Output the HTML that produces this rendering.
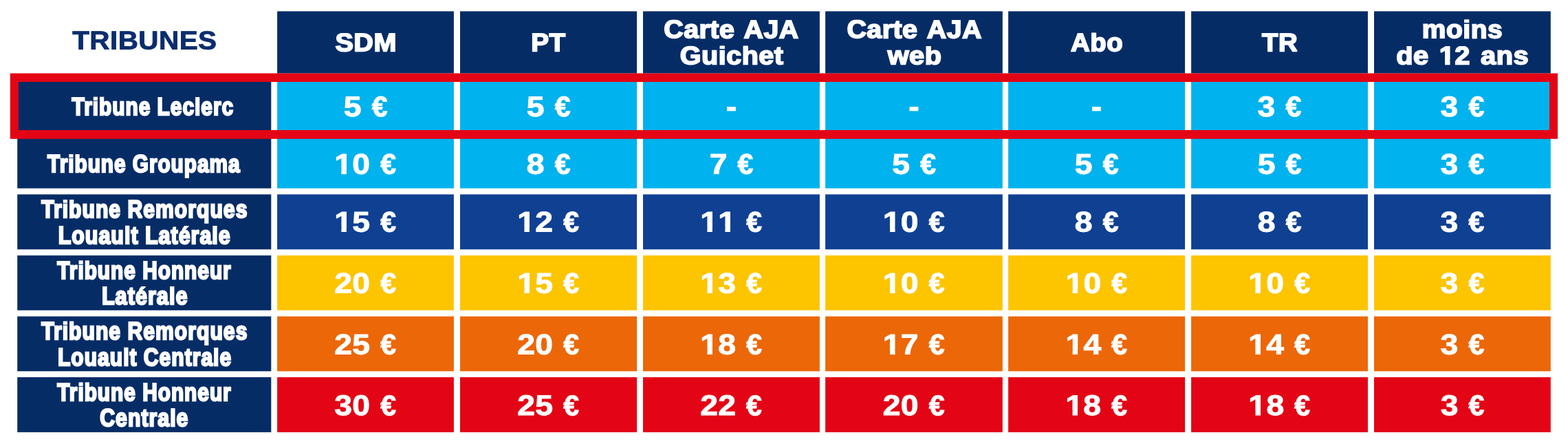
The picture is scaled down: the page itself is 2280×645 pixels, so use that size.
<!DOCTYPE html>
<html lang="fr"><head><meta charset="utf-8"><title>Tarifs tribunes</title>
<style>
html,body{margin:0;padding:0;width:2280px;height:645px;background:#fff;overflow:hidden}
svg{display:block;position:absolute;left:0;top:0;width:2280px;height:645px}
text{font-family:"Liberation Sans",sans-serif;font-weight:bold;text-rendering:geometricPrecision;stroke-linejoin:miter;stroke-miterlimit:2;white-space:pre}
.t{font-size:37.7px;fill:#0a2d6e;stroke:#0a2d6e;stroke-width:0.8px;letter-spacing:0.4px;word-spacing:0px}
.h{font-size:37px;fill:#fff;stroke:#fff;stroke-width:1.8px;letter-spacing:0.5px;word-spacing:3.2px}
.l{font-size:35.9px;fill:#fff;stroke:#fff;stroke-width:2.4px;letter-spacing:1.2px;word-spacing:0px}
.d{font-size:41.6px;fill:#fff;stroke:#fff;stroke-width:1px;letter-spacing:0.3px;word-spacing:0px}
.d{font-kerning:none}
</style></head><body>
<svg width="2280" height="645" viewBox="0 0 2280 645">
<defs>
<clipPath id="ch"><path clip-rule="evenodd" d="M-400 -26.71H400V100H-400Z"/></clipPath>
<clipPath id="cl"><path clip-rule="evenodd" d="M-400 -26.25H400V100H-400Z"/></clipPath>
<clipPath id="k1"><path clip-rule="evenodd" d="M-400 -100.00H400V100H-400ZM1.12 -6.35H9.21V2.00H1.12ZM15.92 -6.35H23.48V2.00H15.92Z"/></clipPath>
<clipPath id="k11"><path clip-rule="evenodd" d="M-400 -100.00H400V100H-400ZM1.12 -6.35H9.21V2.00H1.12ZM15.92 -6.35H23.48V2.00H15.92ZM24.55 -6.35H32.64V2.00H24.55ZM39.35 -6.35H46.91V2.00H39.35Z"/></clipPath>
<clipPath id="kh"><path clip-rule="evenodd" d="M-400 -26.71H400V100H-400ZM58.60 -6.28H65.90V2.40H58.60ZM72.78 -6.28H79.61V2.40H72.78Z"/></clipPath>
</defs>
<rect x="403.1" y="16.4" width="256.8" height="90.2" fill="#062c66"/>
<rect x="669" y="16.4" width="257.1" height="90.2" fill="#062c66"/>
<rect x="935" y="16.4" width="256.9" height="90.2" fill="#062c66"/>
<rect x="1200.1" y="16.4" width="257.7" height="90.2" fill="#062c66"/>
<rect x="1466.1" y="16.4" width="256.95" height="90.2" fill="#062c66"/>
<rect x="1732.1" y="16.4" width="256.86" height="90.2" fill="#062c66"/>
<rect x="1998" y="16.4" width="256.8" height="90.2" fill="#062c66"/>
<rect x="25.2" y="110" width="369.1" height="85" fill="#062c66"/>
<rect x="403.1" y="110" width="256.8" height="85" fill="#00b2ed"/>
<rect x="669" y="110" width="257.1" height="85" fill="#00b2ed"/>
<rect x="935" y="110" width="256.9" height="85" fill="#00b2ed"/>
<rect x="1200.1" y="110" width="257.7" height="85" fill="#00b2ed"/>
<rect x="1466.1" y="110" width="256.95" height="85" fill="#00b2ed"/>
<rect x="1732.1" y="110" width="256.86" height="85" fill="#00b2ed"/>
<rect x="1998" y="110" width="256.8" height="85" fill="#00b2ed"/>
<rect x="25.2" y="194" width="369.1" height="79.6" fill="#062c66"/>
<rect x="403.1" y="194" width="256.8" height="79.6" fill="#00b2ed"/>
<rect x="669" y="194" width="257.1" height="79.6" fill="#00b2ed"/>
<rect x="935" y="194" width="256.9" height="79.6" fill="#00b2ed"/>
<rect x="1200.1" y="194" width="257.7" height="79.6" fill="#00b2ed"/>
<rect x="1466.1" y="194" width="256.95" height="79.6" fill="#00b2ed"/>
<rect x="1732.1" y="194" width="256.86" height="79.6" fill="#00b2ed"/>
<rect x="1998" y="194" width="256.8" height="79.6" fill="#00b2ed"/>
<rect x="25.2" y="282.4" width="369.1" height="79.9" fill="#062c66"/>
<rect x="403.1" y="282.4" width="256.8" height="79.9" fill="#0f4092"/>
<rect x="669" y="282.4" width="257.1" height="79.9" fill="#0f4092"/>
<rect x="935" y="282.4" width="256.9" height="79.9" fill="#0f4092"/>
<rect x="1200.1" y="282.4" width="257.7" height="79.9" fill="#0f4092"/>
<rect x="1466.1" y="282.4" width="256.95" height="79.9" fill="#0f4092"/>
<rect x="1732.1" y="282.4" width="256.86" height="79.9" fill="#0f4092"/>
<rect x="1998" y="282.4" width="256.8" height="79.9" fill="#0f4092"/>
<rect x="25.2" y="371.1" width="369.1" height="79.65" fill="#062c66"/>
<rect x="403.1" y="371.1" width="256.8" height="79.65" fill="#fdc400"/>
<rect x="669" y="371.1" width="257.1" height="79.65" fill="#fdc400"/>
<rect x="935" y="371.1" width="256.9" height="79.65" fill="#fdc400"/>
<rect x="1200.1" y="371.1" width="257.7" height="79.65" fill="#fdc400"/>
<rect x="1466.1" y="371.1" width="256.95" height="79.65" fill="#fdc400"/>
<rect x="1732.1" y="371.1" width="256.86" height="79.65" fill="#fdc400"/>
<rect x="1998" y="371.1" width="256.8" height="79.65" fill="#fdc400"/>
<rect x="25.2" y="459.6" width="369.1" height="79.7" fill="#062c66"/>
<rect x="403.1" y="459.6" width="256.8" height="79.7" fill="#ec6707"/>
<rect x="669" y="459.6" width="257.1" height="79.7" fill="#ec6707"/>
<rect x="935" y="459.6" width="256.9" height="79.7" fill="#ec6707"/>
<rect x="1200.1" y="459.6" width="257.7" height="79.7" fill="#ec6707"/>
<rect x="1466.1" y="459.6" width="256.95" height="79.7" fill="#ec6707"/>
<rect x="1732.1" y="459.6" width="256.86" height="79.7" fill="#ec6707"/>
<rect x="1998" y="459.6" width="256.8" height="79.7" fill="#ec6707"/>
<rect x="25.2" y="548" width="369.1" height="79.9" fill="#062c66"/>
<rect x="403.1" y="548" width="256.8" height="79.9" fill="#e30515"/>
<rect x="669" y="548" width="257.1" height="79.9" fill="#e30515"/>
<rect x="935" y="548" width="256.9" height="79.9" fill="#e30515"/>
<rect x="1200.1" y="548" width="257.7" height="79.9" fill="#e30515"/>
<rect x="1466.1" y="548" width="256.95" height="79.9" fill="#e30515"/>
<rect x="1732.1" y="548" width="256.86" height="79.9" fill="#e30515"/>
<rect x="1998" y="548" width="256.8" height="79.9" fill="#e30515"/>
<path fill="#e30515" fill-rule="evenodd" d="M14.75 106.4H2265V201.7H14.75ZM26.9 119.1H2252.9V189H26.9Z"/>
<g>
<text class="t" transform="translate(105.22 71.50) skewY(0.03) scale(1.0737 1)">TRIBUNES</text>
<text class="h" clip-path="url(#ch)" transform="translate(487.40 74.30) skewY(0.03) scale(1.0690 1)">SDM</text>
<text class="h" clip-path="url(#ch)" transform="translate(772.19 74.30) skewY(0.03) scale(1.0428 1)">PT</text>
<text class="h" clip-path="url(#ch)" transform="translate(965.37 55.10) skewY(0.03) scale(1.0597 1)">Carte AJA</text>
<text class="h" clip-path="url(#ch)" transform="translate(988.85 93.20) skewY(0.03) scale(1.0662 1)">Guichet</text>
<text class="h" clip-path="url(#ch)" transform="translate(1231.42 55.10) skewY(0.03) scale(1.0607 1)">Carte AJA</text>
<text class="h" clip-path="url(#ch)" transform="translate(1290.71 93.20) skewY(0.03) scale(1.0727 1)">web</text>
<text class="h" clip-path="url(#ch)" transform="translate(1557.08 74.30) skewY(0.03) scale(1.0346 1)">Abo</text>
<text class="h" clip-path="url(#ch)" transform="translate(1835.08 74.30) skewY(0.03) scale(1.0348 1)">TR</text>
<text class="h" clip-path="url(#ch)" transform="translate(2067.87 55.10) skewY(0.03) scale(1.0520 1)">moins</text>
<text class="h" clip-path="url(#kh)" transform="translate(2030.24 93.20) skewY(0.03) scale(1.0742 1)">de 12 ans</text>
</g>
<g>
<text class="l" clip-path="url(#cl)" transform="translate(104.55 166.80) skewY(0.03) scale(0.8316 1)">Tribune Leclerc</text>
<text class="d" transform="translate(499.70 168.90) skewY(0.03) scale(1.1100 1)">5 <tspan dx="1.6" textLength="20.82" lengthAdjust="spacingAndGlyphs">€</tspan></text>
<text class="d" transform="translate(765.71 168.90) skewY(0.03) scale(1.1100 1)">5 <tspan dx="1.6" textLength="20.82" lengthAdjust="spacingAndGlyphs">€</tspan></text>
<text class="d" transform="translate(1055.68 168.90) skewY(0.03) scale(1.1100 1)">-</text>
<text class="d" transform="translate(1321.19 168.90) skewY(0.03) scale(1.1100 1)">-</text>
<text class="d" transform="translate(1586.81 168.90) skewY(0.03) scale(1.1100 1)">-</text>
<text class="d" transform="translate(1828.59 168.90) skewY(0.03) scale(1.1100 1)">3 <tspan dx="1.6" textLength="20.82" lengthAdjust="spacingAndGlyphs">€</tspan></text>
<text class="d" transform="translate(2094.52 168.90) skewY(0.03) scale(1.1100 1)">3 <tspan dx="1.6" textLength="20.82" lengthAdjust="spacingAndGlyphs">€</tspan></text>
</g>
<g>
<text class="l" clip-path="url(#cl)" transform="translate(69.12 249.70) skewY(0.03) scale(0.8287 1)">Tribune Groupama</text>
<text class="d" clip-path="url(#k1)" transform="translate(486.18 252.50) skewY(0.03) scale(1.1100 1)">10 <tspan dx="1.6" textLength="20.82" lengthAdjust="spacingAndGlyphs">€</tspan></text>
<text class="d" transform="translate(765.68 252.50) skewY(0.03) scale(1.1100 1)">8 <tspan dx="1.6" textLength="20.82" lengthAdjust="spacingAndGlyphs">€</tspan></text>
<text class="d" transform="translate(1031.63 252.50) skewY(0.03) scale(1.1100 1)">7 <tspan dx="1.6" textLength="20.82" lengthAdjust="spacingAndGlyphs">€</tspan></text>
<text class="d" transform="translate(1297.20 252.50) skewY(0.03) scale(1.1100 1)">5 <tspan dx="1.6" textLength="20.82" lengthAdjust="spacingAndGlyphs">€</tspan></text>
<text class="d" transform="translate(1562.72 252.50) skewY(0.03) scale(1.1100 1)">5 <tspan dx="1.6" textLength="20.82" lengthAdjust="spacingAndGlyphs">€</tspan></text>
<text class="d" transform="translate(1828.70 252.50) skewY(0.03) scale(1.1100 1)">5 <tspan dx="1.6" textLength="20.82" lengthAdjust="spacingAndGlyphs">€</tspan></text>
<text class="d" transform="translate(2094.53 252.50) skewY(0.03) scale(1.1100 1)">3 <tspan dx="1.6" textLength="20.82" lengthAdjust="spacingAndGlyphs">€</tspan></text>
</g>
<g>
<text class="l" clip-path="url(#cl)" transform="translate(60.16 315.50) skewY(0.03) scale(0.8400 1)">Tribune Remorques</text>
<text class="l" clip-path="url(#cl)" transform="translate(84.67 353.80) skewY(0.03) scale(0.8469 1)">Louault Latérale</text>
<text class="d" clip-path="url(#k1)" transform="translate(486.18 336.50) skewY(0.03) scale(1.1100 1)">15 <tspan dx="1.6" textLength="20.82" lengthAdjust="spacingAndGlyphs">€</tspan></text>
<text class="d" clip-path="url(#k1)" transform="translate(752.21 336.50) skewY(0.03) scale(1.1100 1)">12 <tspan dx="1.6" textLength="20.82" lengthAdjust="spacingAndGlyphs">€</tspan></text>
<text class="d" clip-path="url(#k11)" transform="translate(1018.20 336.50) skewY(0.03) scale(1.1100 1)">11 <tspan dx="1.6" textLength="20.82" lengthAdjust="spacingAndGlyphs">€</tspan></text>
<text class="d" clip-path="url(#k1)" transform="translate(1283.84 336.50) skewY(0.03) scale(1.1100 1)">10 <tspan dx="1.6" textLength="20.82" lengthAdjust="spacingAndGlyphs">€</tspan></text>
<text class="d" transform="translate(1562.72 336.50) skewY(0.03) scale(1.1100 1)">8 <tspan dx="1.6" textLength="20.82" lengthAdjust="spacingAndGlyphs">€</tspan></text>
<text class="d" transform="translate(1828.70 336.50) skewY(0.03) scale(1.1100 1)">8 <tspan dx="1.6" textLength="20.82" lengthAdjust="spacingAndGlyphs">€</tspan></text>
<text class="d" transform="translate(2094.53 336.50) skewY(0.03) scale(1.1100 1)">3 <tspan dx="1.6" textLength="20.82" lengthAdjust="spacingAndGlyphs">€</tspan></text>
</g>
<g>
<text class="l" clip-path="url(#cl)" transform="translate(83.22 404.60) skewY(0.03) scale(0.8307 1)">Tribune Honneur</text>
<text class="l" clip-path="url(#cl)" transform="translate(147.89 441.80) skewY(0.03) scale(0.8529 1)">Latérale</text>
<text class="d" transform="translate(486.18 425.50) skewY(0.03) scale(1.1100 1)">20 <tspan dx="1.6" textLength="20.82" lengthAdjust="spacingAndGlyphs">€</tspan></text>
<text class="d" clip-path="url(#k1)" transform="translate(752.21 425.50) skewY(0.03) scale(1.1100 1)">15 <tspan dx="1.6" textLength="20.82" lengthAdjust="spacingAndGlyphs">€</tspan></text>
<text class="d" clip-path="url(#k1)" transform="translate(1018.25 425.50) skewY(0.03) scale(1.1100 1)">13 <tspan dx="1.6" textLength="20.82" lengthAdjust="spacingAndGlyphs">€</tspan></text>
<text class="d" clip-path="url(#k1)" transform="translate(1283.84 425.50) skewY(0.03) scale(1.1100 1)">10 <tspan dx="1.6" textLength="20.82" lengthAdjust="spacingAndGlyphs">€</tspan></text>
<text class="d" clip-path="url(#k1)" transform="translate(1549.38 425.50) skewY(0.03) scale(1.1100 1)">10 <tspan dx="1.6" textLength="20.82" lengthAdjust="spacingAndGlyphs">€</tspan></text>
<text class="d" clip-path="url(#k1)" transform="translate(1815.25 425.50) skewY(0.03) scale(1.1100 1)">10 <tspan dx="1.6" textLength="20.82" lengthAdjust="spacingAndGlyphs">€</tspan></text>
<text class="d" transform="translate(2094.53 425.50) skewY(0.03) scale(1.1100 1)">3 <tspan dx="1.6" textLength="20.82" lengthAdjust="spacingAndGlyphs">€</tspan></text>
</g>
<g>
<text class="l" clip-path="url(#cl)" transform="translate(60.16 492.80) skewY(0.03) scale(0.8400 1)">Tribune Remorques</text>
<text class="l" clip-path="url(#cl)" transform="translate(83.97 530.80) skewY(0.03) scale(0.8374 1)">Louault Centrale</text>
<text class="d" transform="translate(486.18 514.50) skewY(0.03) scale(1.1100 1)">25 <tspan dx="1.6" textLength="20.82" lengthAdjust="spacingAndGlyphs">€</tspan></text>
<text class="d" transform="translate(752.21 514.50) skewY(0.03) scale(1.1100 1)">20 <tspan dx="1.6" textLength="20.82" lengthAdjust="spacingAndGlyphs">€</tspan></text>
<text class="d" clip-path="url(#k1)" transform="translate(1018.25 514.50) skewY(0.03) scale(1.1100 1)">18 <tspan dx="1.6" textLength="20.82" lengthAdjust="spacingAndGlyphs">€</tspan></text>
<text class="d" clip-path="url(#k1)" transform="translate(1283.84 514.50) skewY(0.03) scale(1.1100 1)">17 <tspan dx="1.6" textLength="20.82" lengthAdjust="spacingAndGlyphs">€</tspan></text>
<text class="d" clip-path="url(#k1)" transform="translate(1549.38 514.50) skewY(0.03) scale(1.1100 1)">14 <tspan dx="1.6" textLength="20.82" lengthAdjust="spacingAndGlyphs">€</tspan></text>
<text class="d" clip-path="url(#k1)" transform="translate(1815.25 514.50) skewY(0.03) scale(1.1100 1)">14 <tspan dx="1.6" textLength="20.82" lengthAdjust="spacingAndGlyphs">€</tspan></text>
<text class="d" transform="translate(2094.53 514.50) skewY(0.03) scale(1.1100 1)">3 <tspan dx="1.6" textLength="20.82" lengthAdjust="spacingAndGlyphs">€</tspan></text>
</g>
<g>
<text class="l" clip-path="url(#cl)" transform="translate(83.22 581.60) skewY(0.03) scale(0.8307 1)">Tribune Honneur</text>
<text class="l" clip-path="url(#cl)" transform="translate(145.20 618.80) skewY(0.03) scale(0.8436 1)">Centrale</text>
<text class="d" transform="translate(486.26 603.10) skewY(0.03) scale(1.1100 1)">30 <tspan dx="1.6" textLength="20.82" lengthAdjust="spacingAndGlyphs">€</tspan></text>
<text class="d" transform="translate(752.25 603.10) skewY(0.03) scale(1.1100 1)">25 <tspan dx="1.6" textLength="20.82" lengthAdjust="spacingAndGlyphs">€</tspan></text>
<text class="d" transform="translate(1018.16 603.10) skewY(0.03) scale(1.1100 1)">22 <tspan dx="1.6" textLength="20.82" lengthAdjust="spacingAndGlyphs">€</tspan></text>
<text class="d" transform="translate(1283.81 603.10) skewY(0.03) scale(1.1100 1)">20 <tspan dx="1.6" textLength="20.82" lengthAdjust="spacingAndGlyphs">€</tspan></text>
<text class="d" clip-path="url(#k1)" transform="translate(1549.30 603.10) skewY(0.03) scale(1.1100 1)">18 <tspan dx="1.6" textLength="20.82" lengthAdjust="spacingAndGlyphs">€</tspan></text>
<text class="d" clip-path="url(#k1)" transform="translate(1815.37 603.10) skewY(0.03) scale(1.1100 1)">18 <tspan dx="1.6" textLength="20.82" lengthAdjust="spacingAndGlyphs">€</tspan></text>
<text class="d" transform="translate(2094.65 603.10) skewY(0.03) scale(1.1100 1)">3 <tspan dx="1.6" textLength="20.82" lengthAdjust="spacingAndGlyphs">€</tspan></text>
</g>
</svg>
</body></html>
